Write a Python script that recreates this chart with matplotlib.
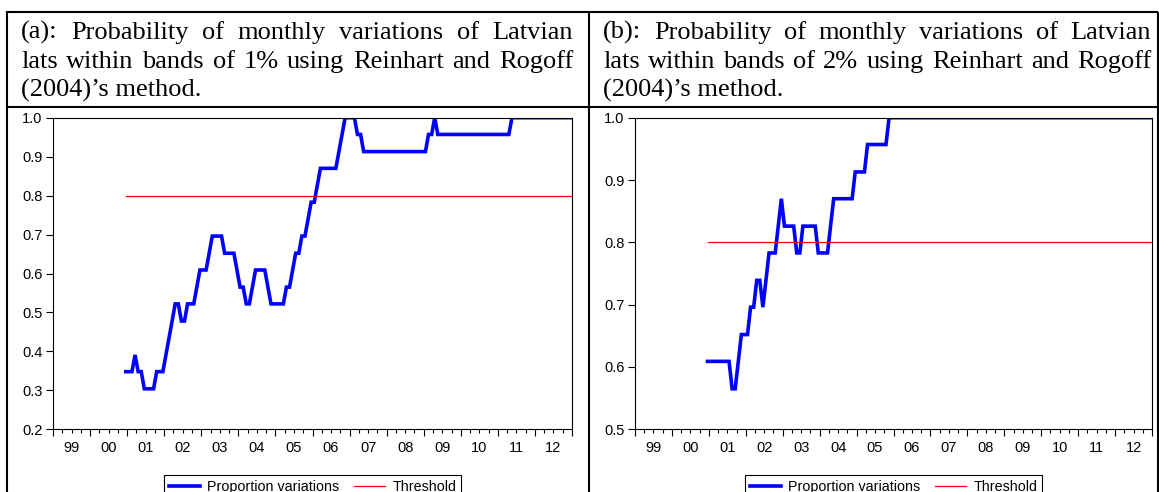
import numpy as np
import pandas as pd
import matplotlib
matplotlib.use("Agg")
import matplotlib.pyplot as plt
from matplotlib.ticker import FixedLocator, FixedFormatter, NullFormatter

W, H = 1159, 492

# monthly observations 2000M12 .. 2012M12
first_month = "2000-12"
last_month = "2012-12"

# (a) proportion of monthly variations within 1% bands
band1_values = [
    0.348,                                                                          # 2000 Dec
    0.348, 0.348, 0.391, 0.348, 0.348, 0.304, 0.304, 0.304, 0.304, 0.348, 0.348, 0.348,  # 2001
    0.391, 0.435, 0.478, 0.522, 0.522, 0.478, 0.478, 0.522, 0.522, 0.522, 0.565, 0.609,  # 2002
    0.609, 0.609, 0.652, 0.696, 0.696, 0.696, 0.696, 0.652, 0.652, 0.652, 0.652, 0.609,  # 2003
    0.565, 0.565, 0.522, 0.522, 0.565, 0.609, 0.609, 0.609, 0.609, 0.565, 0.522, 0.522,  # 2004
    0.522, 0.522, 0.522, 0.565, 0.565, 0.609, 0.652, 0.652, 0.696, 0.696, 0.739, 0.783,  # 2005
    0.783, 0.826, 0.870, 0.870, 0.870, 0.870, 0.870, 0.870, 0.913, 0.957, 1.000, 1.000,  # 2006
    1.000, 1.000, 0.957, 0.957, 0.913, 0.913, 0.913, 0.913, 0.913, 0.913, 0.913, 0.913,  # 2007
    0.913, 0.913, 0.913, 0.913, 0.913, 0.913, 0.913, 0.913, 0.913, 0.913, 0.913, 0.913,  # 2008
    0.913, 0.957, 0.957, 1.000, 0.957, 0.957, 0.957, 0.957, 0.957, 0.957, 0.957, 0.957,  # 2009
    0.957, 0.957, 0.957, 0.957, 0.957, 0.957, 0.957, 0.957, 0.957, 0.957, 0.957, 0.957,  # 2010
    0.957, 0.957, 0.957, 0.957, 1.000, 1.000, 1.000, 1.000, 1.000, 1.000, 1.000, 1.000,  # 2011
    1.000, 1.000, 1.000, 1.000, 1.000, 1.000, 1.000, 1.000, 1.000, 1.000, 1.000, 1.000,  # 2012
]

# (b) proportion of monthly variations within 2% bands
band2_values = [
    0.609,                                                                          # 2000 Dec
    0.609, 0.609, 0.609, 0.609, 0.609, 0.609, 0.609, 0.565, 0.565, 0.609, 0.652, 0.652,  # 2001
    0.652, 0.696, 0.696, 0.739, 0.739, 0.696, 0.739, 0.783, 0.783, 0.783, 0.826, 0.870,  # 2002
    0.826, 0.826, 0.826, 0.826, 0.783, 0.783, 0.826, 0.826, 0.826, 0.826, 0.826, 0.783,  # 2003
    0.783, 0.783, 0.783, 0.826, 0.870, 0.870, 0.870, 0.870, 0.870, 0.870, 0.870, 0.913,  # 2004
    0.913, 0.913, 0.913, 0.957, 0.957, 0.957, 0.957, 0.957, 0.957, 0.957, 1.000, 1.000,  # 2005
    1.000, 1.000, 1.000, 1.000, 1.000, 1.000, 1.000, 1.000, 1.000, 1.000, 1.000, 1.000,  # 2006
    1.000, 1.000, 1.000, 1.000, 1.000, 1.000, 1.000, 1.000, 1.000, 1.000, 1.000, 1.000,  # 2007
    1.000, 1.000, 1.000, 1.000, 1.000, 1.000, 1.000, 1.000, 1.000, 1.000, 1.000, 1.000,  # 2008
    1.000, 1.000, 1.000, 1.000, 1.000, 1.000, 1.000, 1.000, 1.000, 1.000, 1.000, 1.000,  # 2009
    1.000, 1.000, 1.000, 1.000, 1.000, 1.000, 1.000, 1.000, 1.000, 1.000, 1.000, 1.000,  # 2010
    1.000, 1.000, 1.000, 1.000, 1.000, 1.000, 1.000, 1.000, 1.000, 1.000, 1.000, 1.000,  # 2011
    1.000, 1.000, 1.000, 1.000, 1.000, 1.000, 1.000, 1.000, 1.000, 1.000, 1.000, 1.000,  # 2012
]

threshold = 0.8

years = list(range(1999, 2013))
year_labels = ["99", "00", "01", "02", "03", "04", "05", "06",
               "07", "08", "09", "10", "11", "12"]

title_a = ["(a): Probability of monthly variations of Latvian",
           "lats within bands of 1% using Reinhart and Rogoff",
           "(2004)\u2019s method."]
title_b = ["(b): Probability of monthly variations of Latvian",
           "lats within bands of 2% using Reinhart and Rogoff",
           "(2004)\u2019s method."]

legend_labels = ["Proportion variations", "Threshold"]

plt.rcParams["font.family"] = ["Liberation Sans", "DejaVu Sans"]

fig = plt.figure(figsize=(W / 100, H / 100), dpi=100)
fig.patch.set_facecolor("white")

# background layer in pixel units for the table and the captions
bg = fig.add_axes([0, 0, 1, 1], zorder=-1)
bg.set_xlim(0, W)
bg.set_ylim(H, 0)
bg.axis("off")

border_kw = dict(color="black", lw=1.5, solid_capstyle="butt")
bg.plot([6, 1157.5], [12, 12], **border_kw)
bg.plot([6, 1157.5], [106.5, 106.5], **border_kw)
bg.plot([6.5, 6.5], [12, H], **border_kw)
bg.plot([589, 589], [12, H], **border_kw)
bg.plot([1157.5, 1157.5], [12, H], **border_kw)


def justified(lines, x0, x1, y0, step, size=19):
    renderer = fig.canvas.get_renderer()
    for i, line in enumerate(lines):
        y = y0 + i * step
        words = line.split(" ")
        if i == len(lines) - 1:
            bg.text(x0, y, line, family="Liberation Serif", fontsize=size,
                    ha="left", va="baseline")
            continue
        texts = [bg.text(0, y, w, family="Liberation Serif", fontsize=size,
                         ha="left", va="baseline") for w in words]
        widths = [t.get_window_extent(renderer).width for t in texts]
        gap = (x1 - x0 - sum(widths)) / (len(words) - 1)
        x = x0
        for t, w in zip(texts, widths):
            t.set_x(x)
            x += w + gap


justified(title_a, 21, 573, 39, 29)
justified(title_b, 603, 1151, 39, 29)

dates = pd.period_range(first_month, last_month, freq="M")
x = dates.year + (dates.month - 0.44) / 12.0
thr = np.full(len(x), threshold)


def panel(left_px, right_px, values, ylo):
    ax = fig.add_axes([left_px / W, (H - 429.3) / H,
                       (right_px - left_px) / W, (429.3 - 117.7) / H])
    ax.plot(x, values, color="#0000ff", lw=2.6, solid_joinstyle="miter",
            label=legend_labels[0])
    ax.plot(x, thr, color="#ff0000", lw=0.9, label=legend_labels[1])
    ax.set_xlim(1999, 2013)
    ax.set_ylim(ylo, 1.0)
    ax.set_yticks(np.round(np.arange(ylo, 1.0001, 0.1), 1))
    ax.yaxis.set_major_formatter(plt.FormatStrFormatter("%.1f"))

    ax.xaxis.set_major_locator(FixedLocator(years + [2013]))
    ax.xaxis.set_major_formatter(NullFormatter())
    minor_pos, minor_lab = [], []
    for yr, lab in zip(years, year_labels):
        minor_pos += [yr + 0.25, yr + 0.5, yr + 0.75]
        minor_lab += ["", lab, ""]
    ax.xaxis.set_minor_locator(FixedLocator(minor_pos))
    ax.xaxis.set_minor_formatter(FixedFormatter(minor_lab))

    ax.tick_params(axis="y", which="major", direction="out", length=5,
                   width=0.8, pad=2.5, labelsize=10.5, left=True, right=False)
    ax.tick_params(axis="x", which="major", direction="out", length=5,
                   width=0.8, top=False)
    ax.tick_params(axis="x", which="minor", direction="out", length=3,
                   width=0.8, pad=5.5, labelsize=10.5, top=False)
    for s in ax.spines.values():
        s.set_color("black")
        s.set_linewidth(0.8)

    leg = ax.legend(loc="upper center", ncol=2,
                    bbox_to_anchor=((left_px + right_px) / 2 / W, 1 - 475 / H),
                    bbox_transform=fig.transFigure, borderaxespad=0,
                    fontsize=10.3, handlelength=2.2, handletextpad=0.5,
                    columnspacing=1.0, borderpad=0.35, fancybox=False,
                    framealpha=1, edgecolor="black")
    leg.get_frame().set_linewidth(0.8)
    return ax


panel(53, 572, band1_values, 0.2)
panel(635, 1152, band2_values, 0.5)

fig.savefig("out.png", dpi=100, facecolor="white")
